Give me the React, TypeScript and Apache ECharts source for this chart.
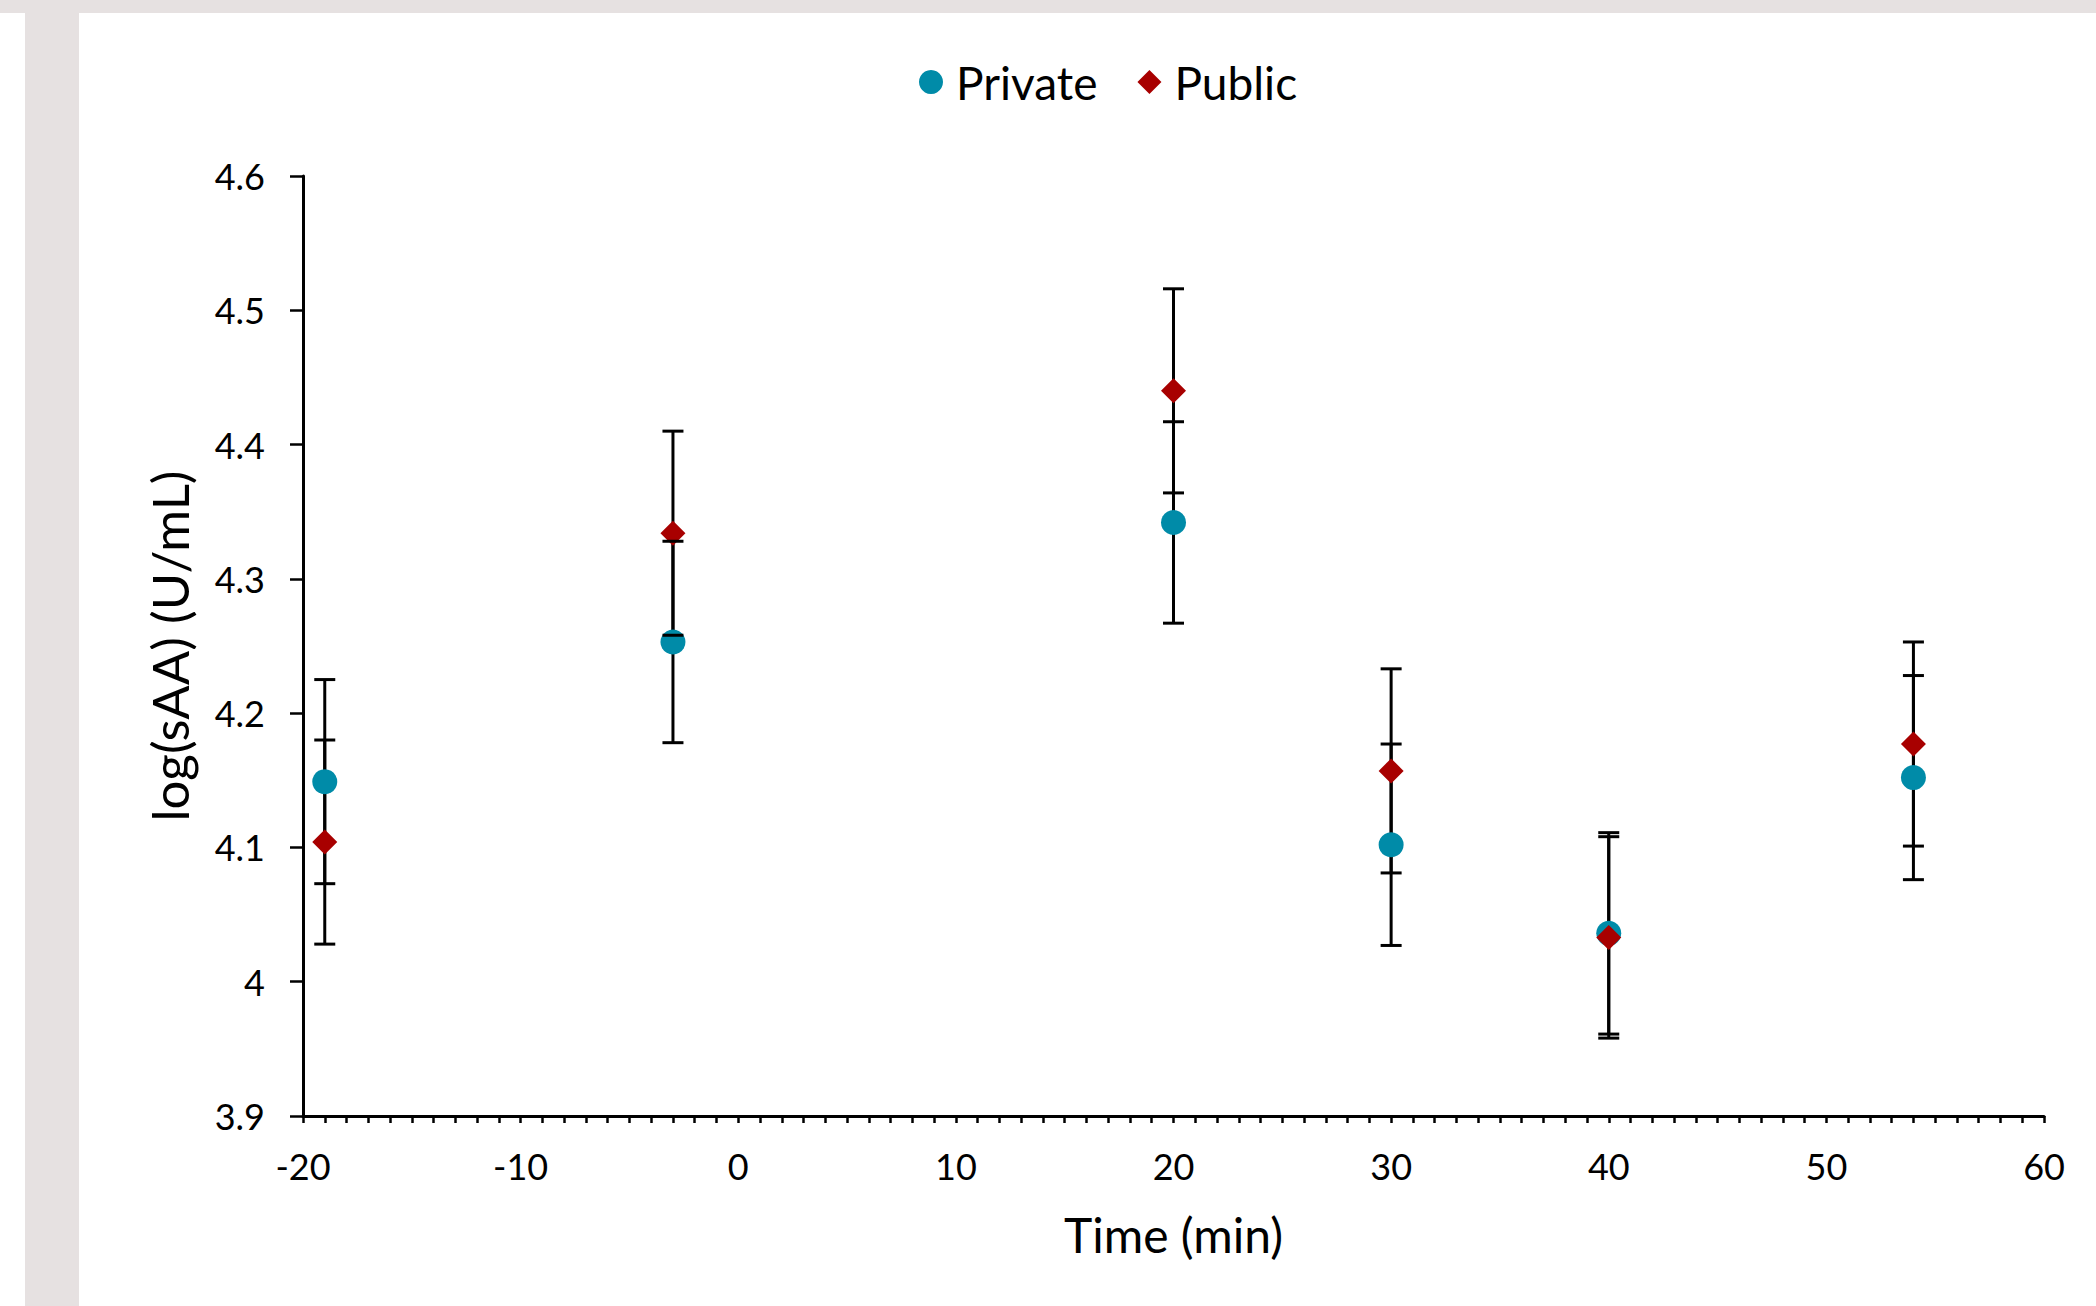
import React, { useEffect, useRef } from "react";
import * as echarts from "echarts";

// ---- data ----
const timePoints = [-19, -3, 20, 30, 40, 54];
const privateMean = [4.149, 4.253, 4.342, 4.102, 4.036, 4.152];
const privateErr = [0.076, 0.075, 0.075, 0.075, 0.075, 0.076];
const publicMean = [4.104, 4.334, 4.44, 4.157, 4.033, 4.177];
const publicErr = [0.076, 0.076, 0.076, 0.076, 0.075, 0.076];
const seriesNames = ["Private", "Public"];
const xTicks = { min: -20, max: 60, interval: 10 };
const yTicks = { min: 3.9, max: 4.6, interval: 0.1 };

const TEAL = "#008BA8";
const RED = "#A80000";
const FONT = "Lato";

export default function App() {
  const ref = useRef<HTMLDivElement>(null);

  useEffect(() => {
    if (!ref.current) return;
    const chart = echarts.init(ref.current, null, { renderer: "svg" });

    const privData = timePoints.map((t, i) => [t, privateMean[i]]);
    const pubData = timePoints.map((t, i) => [t, publicMean[i]]);
    const errData = [
      ...timePoints.map((t, i) => [t, privateMean[i] - privateErr[i], privateMean[i] + privateErr[i]]),
      ...timePoints.map((t, i) => [t, publicMean[i] - publicErr[i], publicMean[i] + publicErr[i]]),
    ];

    const stemItem = (params: any, api: any) => {
      const x = api.value(0);
      const lo = api.coord([x, api.value(1)]);
      const hi = api.coord([x, api.value(2)]);
      return {
        type: "line",
        shape: { x1: lo[0], y1: lo[1], x2: hi[0], y2: hi[1] },
        style: { stroke: "#000", lineWidth: 3 },
      };
    };
    const capItem = (params: any, api: any) => {
      const x = api.value(0);
      const lo = api.coord([x, api.value(1)]);
      const hi = api.coord([x, api.value(2)]);
      const hw = 10.5;
      return {
        type: "group",
        children: [
          { type: "line", shape: { x1: lo[0] - hw, y1: lo[1], x2: lo[0] + hw, y2: lo[1] }, style: { stroke: "#000", lineWidth: 3 } },
          { type: "line", shape: { x1: hi[0] - hw, y1: hi[1], x2: hi[0] + hw, y2: hi[1] }, style: { stroke: "#000", lineWidth: 3 } },
        ],
      };
    };

    chart.setOption({
      animation: false,
      backgroundColor: "#ffffff",
      textStyle: { fontFamily: FONT },
      graphic: [
        { type: "rect", z: -10, shape: { x: 0, y: 0, width: 2096, height: 13 }, style: { fill: "#E6E1E1" } },
        { type: "rect", z: -10, shape: { x: 25, y: 13, width: 54, height: 1293 }, style: { fill: "#E6E1E1" } },
      ],
      legend: {
        data: seriesNames,
        left: 914,
        top: 54,
        itemWidth: 24,
        itemHeight: 24,
        itemGap: 40,
        textStyle: { fontFamily: FONT, fontSize: 46, color: "#000", padding: [0, 0, 0, 8] },
      },
      grid: { left: 303, right: 52, top: 176, bottom: 190 },
      xAxis: {
        type: "value",
        min: xTicks.min,
        max: xTicks.max,
        interval: xTicks.interval,
        name: "Time (min)",
        nameLocation: "middle",
        nameGap: 94,
        nameTextStyle: { fontFamily: FONT, fontSize: 48, color: "#000" },
        axisLine: { onZero: false, lineStyle: { color: "#000", width: 3 } },
        axisTick: { show: true, inside: false, length: 7, lineStyle: { color: "#000", width: 2.5 } },
        minorTick: { show: true, splitNumber: 10, length: 7, lineStyle: { color: "#000", width: 2.5 } },
        axisLabel: { fontFamily: FONT, fontSize: 36, color: "#000", margin: 32 },
        splitLine: { show: false },
      },
      yAxis: {
        type: "value",
        min: yTicks.min,
        max: yTicks.max,
        interval: yTicks.interval,
        name: "log(sAA) (U/mL)",
        nameLocation: "middle",
        nameGap: 108,
        nameTextStyle: { fontFamily: FONT, fontSize: 51, color: "#000" },
        axisLine: { show: true, onZero: false, lineStyle: { color: "#000", width: 3 } },
        axisTick: { show: true, inside: false, length: 13, lineStyle: { color: "#000", width: 2.5 } },
        axisLabel: {
          fontFamily: FONT,
          fontSize: 36,
          color: "#000",
          margin: 38,
          formatter: (v: number) => String(+v.toFixed(1)),
        },
        splitLine: { show: false },
      },
      series: [
        {
          type: "custom",
          name: "stems",
          renderItem: stemItem,
          data: errData,
          z: 1,
          silent: true,
          encode: { x: 0, y: [1, 2] },
        },
        {
          type: "scatter",
          name: "Private",
          data: privData,
          symbol: "circle",
          symbolSize: 25,
          itemStyle: { color: TEAL, opacity: 1 },
          z: 2,
        },
        {
          type: "scatter",
          name: "Public",
          data: pubData,
          symbol: "diamond",
          symbolSize: [25, 25],
          itemStyle: { color: RED, opacity: 1 },
          z: 3,
        },
        {
          type: "custom",
          name: "caps",
          renderItem: capItem,
          data: errData,
          z: 4,
          silent: true,
          encode: { x: 0, y: [1, 2] },
        },
      ],
    });

    return () => chart.dispose();
  }, []);

  return (
    <div style={{ position: "fixed", left: 0, top: 0, width: 2096, height: 1306, background: "#fff" }}>
      <div ref={ref} style={{ width: 2096, height: 1306 }} />
    </div>
  );
}
